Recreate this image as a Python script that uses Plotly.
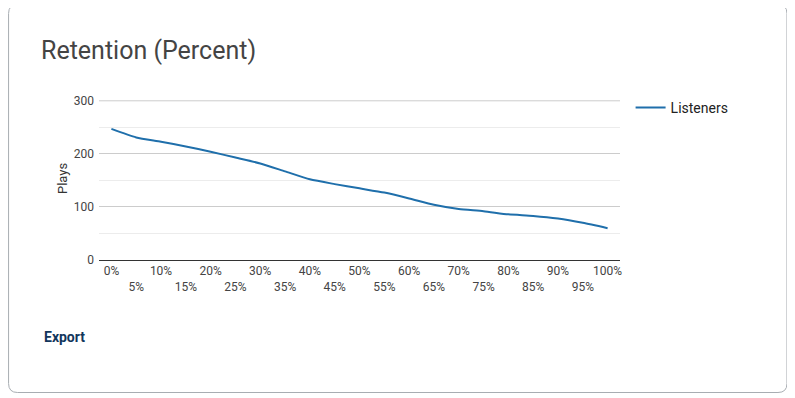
import plotly.graph_objects as go

categories = ["0%", "5%", "10%", "15%", "20%", "25%", "30%", "35%", "40%", "45%", "50%",
              "55%", "60%", "65%", "70%", "75%", "80%", "85%", "90%", "95%", "100%"]
listeners = [247, 231, 223, 214, 204, 193, 182, 167, 152, 143, 135,
             127, 116, 104, 96, 92, 86, 83, 78, 70, 60]
y_ticks = [0, 100, 200, 300]

# page has an 8px body margin; work in page pixel coordinates and offset
OFF = 8
W, H = 795 - OFF, 398 - OFF
L, T = 99 - OFF, 100 - OFF
R = W - (620.4 - OFF)
B = H - (260 - OFF)
PW, PH = W - L - R, H - T - B


def px(x):
    return (x - OFF - L) / PW


def py(y):
    return (H - B - (y - OFF)) / PH


fig = go.Figure()
fig.add_trace(go.Scatter(
    x=list(range(len(categories))), y=listeners, mode="lines", name="Listeners",
    line=dict(color="#1f6fab", width=2, shape="spline", smoothing=0.6),
    hoverinfo="skip",
))

ticktext = [c if i % 2 == 0 else "<br>" + c for i, c in enumerate(categories)]

fig.update_layout(
    width=W, height=H,
    margin=dict(l=L, r=R, t=T, b=B, autoexpand=False),
    paper_bgcolor="white", plot_bgcolor="white",
    font=dict(family="Roboto, Arial, sans-serif", color="#444"),
    showlegend=True,
    legend=dict(x=px(631), y=py(92), xanchor="left", yanchor="top",
                font=dict(size=14, color="#222"), bgcolor="rgba(0,0,0,0)"),
    xaxis=dict(
        range=[-0.5, len(categories) - 0.5], tickmode="array",
        tickvals=list(range(len(categories))), ticktext=ticktext, tickangle=0,
        showgrid=False, showline=True, linecolor="#333", linewidth=1,
        tickfont=dict(size=12, color="#444"), ticks="", zeroline=False,
    ),
    yaxis=dict(
        range=[0, 301.5], tickvals=y_ticks, showgrid=True, gridcolor="#cccccc",
        zeroline=False, showline=False, ticks="", ticklabelstandoff=4,
        tickfont=dict(size=12, color="#444"),
        minor=dict(dtick=50, showgrid=True, gridcolor="#ececec", ticks=""),
    ),
)

# top gridline (plotly drops the one at the top edge)
fig.add_shape(type="line", xref="paper", yref="y", x0=0, x1=1,
              y0=y_ticks[-1], y1=y_ticks[-1], line=dict(color="#cccccc", width=1),
              layer="below")

# card border
r = 9
x0, x1, y0, y1 = 8.5, 787.5, 4.5, 392.5
pts = (f"M {px(x0 + r)},{py(y0)} L {px(x1 - r)},{py(y0)} Q {px(x1)},{py(y0)} {px(x1)},{py(y0 + r)} "
       f"L {px(x1)},{py(y1 - r)} Q {px(x1)},{py(y1)} {px(x1 - r)},{py(y1)} "
       f"L {px(x0 + r)},{py(y1)} Q {px(x0)},{py(y1)} {px(x0)},{py(y1 - r)} "
       f"L {px(x0)},{py(y0 + r)} Q {px(x0)},{py(y0)} {px(x0 + r)},{py(y0)} Z")
fig.add_shape(type="path", path=pts, xref="paper", yref="paper",
              line=dict(color="#a8adb2", width=1), layer="below")

fig.add_annotation(text="Retention (Percent)", xref="paper", yref="paper",
                   x=px(39), y=py(50), xanchor="left", yanchor="middle",
                   showarrow=False, font=dict(size=25, color="#444"))
fig.add_annotation(text="Plays", xref="paper", yref="paper", textangle=-90,
                   x=px(62), y=py(179), xanchor="center", yanchor="middle",
                   showarrow=False, font=dict(size=13, color="#333"))
fig.add_annotation(text="<b>Export</b>", xref="paper", yref="paper",
                   x=px(42), y=py(337), xanchor="left", yanchor="middle",
                   showarrow=False, font=dict(size=14, color="#12365c"))

fig.write_html("out.html")
